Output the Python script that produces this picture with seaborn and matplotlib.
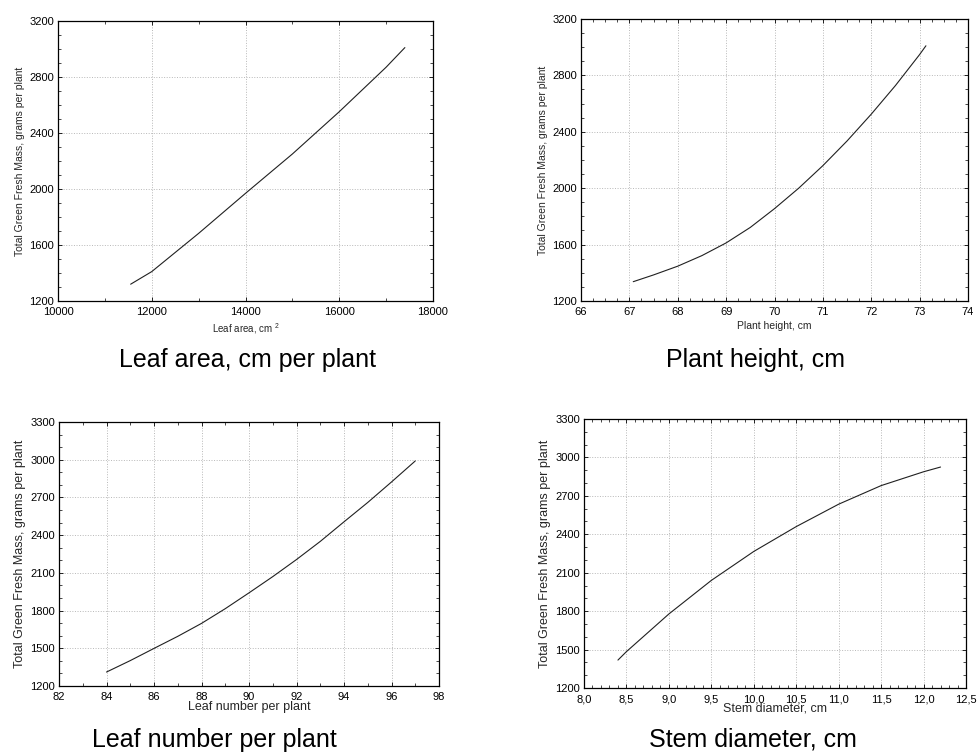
import matplotlib
matplotlib.use("Agg")
import matplotlib.pyplot as plt
import seaborn as sns
import pandas as pd
from matplotlib.ticker import MultipleLocator, FuncFormatter

# ---- data ----
leaf_area_x = [11550, 12000, 13000, 14000, 15000, 16000, 17000, 17400]
leaf_area_y = [1320, 1410, 1683, 1969, 2250, 2552, 2870, 3010]

height_x = [67.08, 67.5, 68, 68.5, 69, 69.5, 70, 70.5, 71, 71.5, 72, 72.5, 73, 73.13]
height_y = [1337, 1385, 1447, 1522, 1612, 1722, 1855, 2000, 2160, 2335, 2525, 2728, 2948, 3010]

leafnum_x = [84, 85, 86, 87, 88, 89, 90, 91, 92, 93, 94, 95, 96, 97]
leafnum_y = [1311, 1402, 1499, 1595, 1698, 1815, 1941, 2070, 2206, 2350, 2506, 2660, 2823, 2990]

stem_x = [8.4, 8.5, 9.0, 9.5, 10.0, 10.5, 11.0, 11.5, 12.0, 12.2]
stem_y = [1418, 1484, 1778, 2040, 2266, 2460, 2635, 2780, 2888, 2925]

y_label = "Total Green Fresh Mass, grams per plant"
x_labels = ["Leaf area, cm $^{2}$", "Plant height, cm", "Leaf number per plant", "Stem diameter, cm"]
captions = ["Leaf area, cm per plant", "Plant height, cm", "Leaf number per plant", "Stem diameter, cm"]

sns.set_theme(style="ticks")
plt.rcParams["font.family"] = ["Liberation Sans", "DejaVu Sans"]
plt.rcParams["mathtext.fontset"] = "custom"
plt.rcParams["mathtext.rm"] = "Liberation Sans"

W, H = 977, 756
fig = plt.figure(figsize=(W / 100, H / 100), dpi=100)
fig.patch.set_facecolor("white")

def px_axes(l, t, r, b):
    return fig.add_axes([l / W, 1 - b / H, (r - l) / W, (b - t) / H])

panels = [
    dict(box=(58, 21, 433, 301), x=leaf_area_x, y=leaf_area_y, xlim=(10000, 18000), ylim=(1200, 3200),
         xmaj=2000, xmin=1000, ymaj=400, ymin=100, lab_fs=7.5, xl_fs=7, comma=False,
         cap=(248, 360), xlpad=3),
    dict(box=(581, 19, 968, 301), x=height_x, y=height_y, xlim=(66, 74), ylim=(1200, 3200),
         xmaj=1, xmin=0.25, ymaj=400, ymin=100, lab_fs=7.5, xl_fs=7.5, comma=False,
         cap=(755, 360), xlpad=3),
    dict(box=(59, 422, 439, 686), x=leafnum_x, y=leafnum_y, xlim=(82, 98), ylim=(1200, 3300),
         xmaj=2, xmin=1, ymaj=300, ymin=100, lab_fs=9, xl_fs=9, comma=False,
         cap=(214, 740), xlpad=-1),
    dict(box=(584, 419, 966, 688), x=stem_x, y=stem_y, xlim=(8.0, 12.5), ylim=(1200, 3300),
         xmaj=0.5, xmin=0.1, ymaj=300, ymin=100, lab_fs=9, xl_fs=9, comma=True,
         cap=(753, 740), xlpad=-1),
]

for i, p in enumerate(panels):
    ax = px_axes(*p["box"])
    df = pd.DataFrame({"x": p["x"], "y": p["y"]})
    sns.lineplot(data=df, x="x", y="y", ax=ax, color="#202020", linewidth=0.8)
    ax.set_xlim(*p["xlim"])
    ax.set_ylim(*p["ylim"])
    ax.xaxis.set_major_locator(MultipleLocator(p["xmaj"]))
    ax.xaxis.set_minor_locator(MultipleLocator(p["xmin"]))
    ax.yaxis.set_major_locator(MultipleLocator(p["ymaj"]))
    ax.yaxis.set_minor_locator(MultipleLocator(p["ymin"]))
    if p["comma"]:
        ax.xaxis.set_major_formatter(FuncFormatter(lambda v, pos: f"{v:.1f}".replace(".", ",")))
    else:
        ax.xaxis.set_major_formatter(FuncFormatter(lambda v, pos: f"{v:.0f}"))
    ax.yaxis.set_major_formatter(FuncFormatter(lambda v, pos: f"{v:.0f}"))
    ax.grid(True, which="major", color="#b8b8b8", linestyle=":", linewidth=0.7)
    ax.tick_params(which="both", direction="in", top=True, right=True, colors="black",
                   labelsize=8)
    ax.tick_params(axis="x", which="both", pad=4.5)
    ax.tick_params(axis="y", which="both", pad=3)
    ax.tick_params(which="major", length=3, width=0.6)
    ax.tick_params(which="minor", length=2, width=0.5)
    for s in ax.spines.values():
        s.set_color("black")
        s.set_linewidth(0.9)
    ax.set_facecolor("white")
    ax.set_ylabel(y_label, fontsize=p["lab_fs"], labelpad=3)
    ax.set_xlabel(x_labels[i], fontsize=p["xl_fs"], labelpad=p["xlpad"])
    fig.text(p["cap"][0] / W, 1 - p["cap"][1] / H, captions[i], fontsize=18,
             ha="center", va="center", color="black")

fig.savefig("out.png", dpi=100, facecolor="white")
